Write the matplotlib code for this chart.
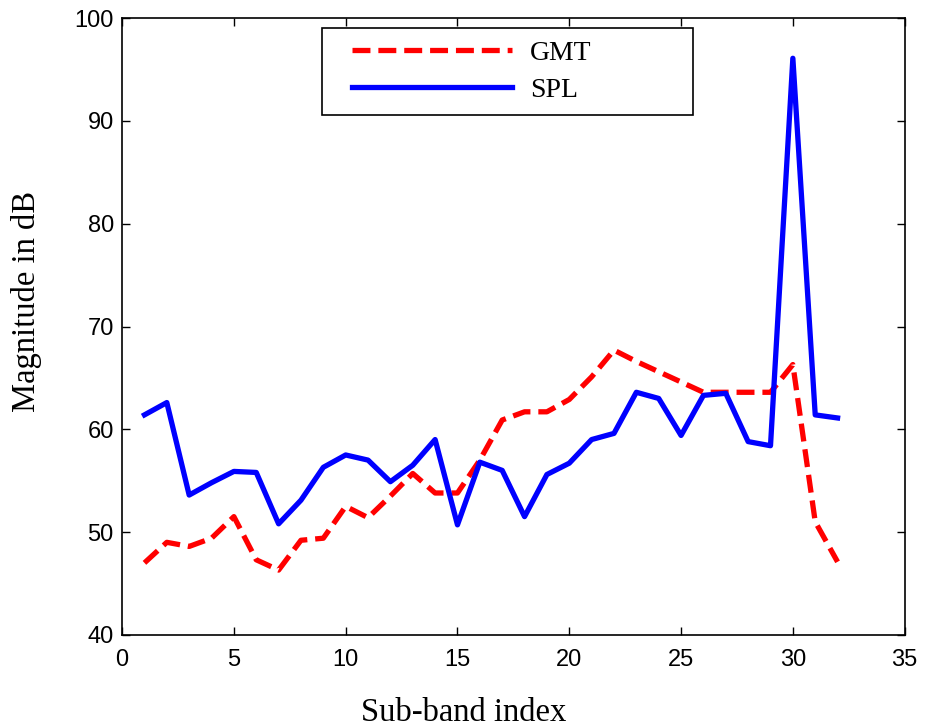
import matplotlib
matplotlib.use("Agg")
import matplotlib.pyplot as plt
from matplotlib.lines import Line2D
from matplotlib.legend_handler import HandlerLine2D

subband = list(range(1, 33))
gmt = [47.0, 49.0, 48.6, 49.4, 51.5, 47.3, 46.3, 49.2, 49.4, 52.5,
       51.4, 53.5, 55.7, 53.8, 53.8, 57.0, 60.9, 61.7, 61.7, 62.9,
       65.1, 67.7, 66.6, 65.6, 64.6, 63.6, 63.6, 63.6, 63.6, 66.3,
       51.0, 47.1]
spl = [61.4, 62.6, 53.6, 54.8, 55.9, 55.8, 50.8, 53.1, 56.3, 57.5,
       57.0, 54.9, 56.5, 59.0, 50.7, 56.8, 56.0, 51.5, 55.6, 56.7,
       59.0, 59.6, 63.6, 63.0, 59.4, 63.3, 63.5, 58.8, 58.4, 96.1,
       61.4, 61.1]
xticks = [0, 5, 10, 15, 20, 25, 30, 35]
yticks = [40, 50, 60, 70, 80, 90, 100]

serif = ["Liberation Serif", "DejaVu Serif"]
tickfont = ["Liberation Sans", "DejaVu Sans"]

fig = plt.figure(figsize=(9.25, 7.28), dpi=100)
ax = fig.add_axes([0.132, 0.128, 0.846, 0.847])

ax.plot(subband, gmt, color="#ff0000", lw=3.8, dashes=(3.4, 1.5), label="GMT")
ax.plot(subband, spl, color="#0000ff", lw=3.8, label="SPL")

ax.set_xlim(0, 35)
ax.set_ylim(40, 100)
ax.set_xticks(xticks)
ax.set_yticks(yticks)
ax.tick_params(direction="in", length=6, width=1, top=True, right=True,
               labelsize=17)
ax.tick_params(axis="x", pad=10)
ax.tick_params(axis="y", pad=6)
for lab in ax.get_xticklabels() + ax.get_yticklabels():
    lab.set_family(tickfont)
for s in ax.spines.values():
    s.set_linewidth(1.2)

ax.set_xlabel("Sub-band index", family=serif, fontsize=23.5)
ax.set_ylabel("Magnitude in dB", family=serif, fontsize=23.5)
ax.xaxis.set_label_coords(0.437, -0.101)
ax.yaxis.set_label_coords(-0.102, 0.541)

leg = ax.legend(loc="upper left", bbox_to_anchor=(0.255, 0.984, 0.474, 0.0),
                mode="expand", borderaxespad=0,
                prop={"family": serif, "size": 20},
                handlelength=6.4, handletextpad=0.65, borderpad=0.45,
                labelspacing=0.4, fancybox=False, framealpha=1,
                edgecolor="black",
                handler_map={Line2D: HandlerLine2D(xpad=0.63)})
leg.get_frame().set_linewidth(1.2)

fig.savefig("out.png", dpi=100)
